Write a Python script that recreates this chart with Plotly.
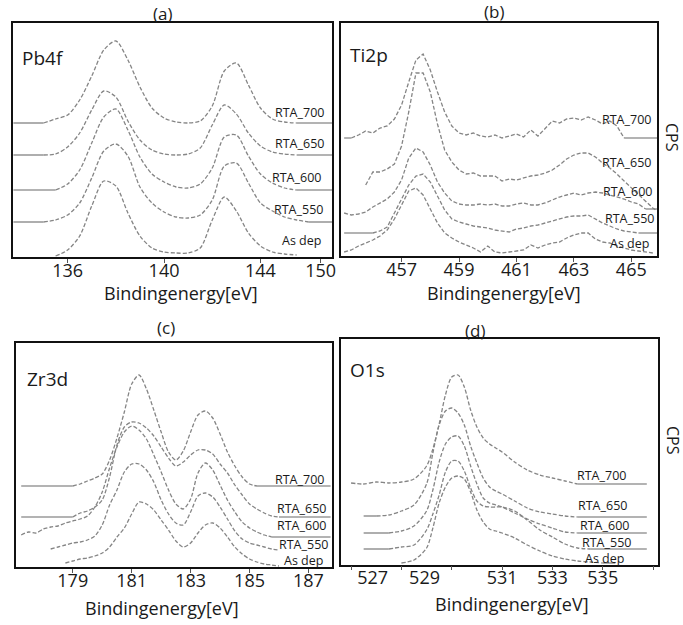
import plotly.graph_objects as go

W, H = 683, 625
SAMPLES = ["As dep", "RTA_550", "RTA_600", "RTA_650", "RTA_700"]
X_TITLE = "Bindingenergy[eV]"

# ---------------- Pb 4f ----------------
pb_energy = [133.75, 134.0, 134.5, 135.0, 135.5, 136.0, 136.5, 137.0, 137.5, 138.0,
             138.5, 139.0, 139.5, 140.0, 140.5, 141.0, 141.5, 142.0, 142.5, 143.0,
             143.5, 144.0, 144.5, 145.0, 145.5, 146.0, 146.5, 147.0]
pb_as_dep = [None, None, None, None, 1, 7, 21, 51, 76, 71, 44, 21, 9, 5, 4, 4, 9, 37, 60,
             46, 24, 11, 5, 3, 2, None, None, None]
pb_rta550 = [35, 35, 35, 35, 37, 42, 54, 79, 106, 113, 101, 70, 54, 45, 40, 39, 42, 57, 91,
             94, 74, 54, 46, 40, 37, 35, 35, 35]
pb_rta600 = [67, 67, 67, 67, 67, 73, 87, 114, 140, 148, 127, 100, 83, 75, 70, 69, 73, 89,
             120, 122, 101, 83, 74, 69, 67, 67, 67, 67]
pb_rta650 = [102, 102, 102, 102, 103, 110, 124, 147, 166, 160, 136, 117, 107, 103, 102, 103,
             109, 132, 152, 143, 124, 111, 105, 103, 102, 102, 102, 102]
pb_rta700 = [134, 134, 134, 134, 138, 142, 157, 181, 207, 216, 197, 170, 149, 139, 135, 134,
             136, 151, 186, 194, 172, 149, 138, 135, 134, 134, 134, 134]
pb_tick_pos = [136, 140, 144, 146.5]
pb_ticks = ["136", "140", "144", "150"]

# ---------------- Ti 2p ----------------
ti_energy = [455.0, 455.25, 455.5, 455.75, 456.0, 456.25, 456.5, 456.75, 457.0, 457.25,
             457.5, 457.75, 458.0, 458.25, 458.5, 458.75, 459.0, 459.25, 459.5, 459.75,
             460.0, 460.25, 460.5, 460.75, 461.0, 461.25, 461.5, 461.75, 462.0, 462.25,
             462.5, 462.75, 463.0, 463.25, 463.5, 463.75, 464.0, 464.25, 464.5, 464.75,
             465.0, 465.25, 465.5, 465.75, 465.9]
ti_as_dep = [4, 6, 10, 13, 16, 20, 26, 37, 51, 65, 68, 61, 47, 33, 23, 18, 14, 11, 8, 4,
             10, 4, 3, 4, 5, 6, 11, 8, 11, 13, 14, 18, 21, 23, 23, 17, 14, 13, 10, 8,
             6, 5, 4, 3, None]
ti_rta550 = [23, 23, 23, 23, 23, 25, 29, 43, 56, 71, 80, 82, 74, 60, 46, 37, 34, 32, 30, 29,
             28, 26, 25, 24, 27, 28, 30, 31, 33, 35, 37, 39, 40, 40, 41, 37, 33, 30, 27, 25,
             24, 23, 23, 23, 23]
ti_rta600 = [43, 41, 42, 44, 49, 53, 57, 64, 76, 98, 108, 104, 91, 74, 63, 55, 52, 51, 51, 52,
             51, 52, 50, 50, 52, 53, 51, 51, 53, 56, 59, 61, 63, 61, 63, 64, 63, 61, 59, 57,
             54, 52, 47, 47, 47]
ti_rta650 = [None, None, None, 71, 84, 84, 87, 92, 110, 144, 183, 183, 164, 132, 106, 94, 86,
             82, 83, 80, 80, 80, 75, 77, 76, 78, 80, 81, 83, 86, 91, 97, 101, 103, 103, 99,
             93, 88, 82, 75, 68, 62, 55, 48, 45]
ti_rta700 = [118, 118, 121, 125, 123, 128, 130, 137, 151, 174, 196, 202, 186, 164, 144, 130,
             123, 121, 123, 120, 119, 121, 118, 120, 122, 119, 126, 120, 128, 135, 133, 137,
             138, 136, 139, 136, 132, 135, 130, 118, 118, 118, 118, 118, 118]
ti_tick_pos = [457, 459, 461, 463, 465]
ti_ticks = ["457", "459", "461", "463", "465"]

# ---------------- Zr 3d ----------------
zr_energy = [177.25, 177.5, 177.75, 178.0, 178.25, 178.5, 178.75, 179.0, 179.25, 179.5,
             179.75, 180.0, 180.25, 180.5, 180.75, 181.0, 181.25, 181.5, 181.75, 182.0,
             182.25, 182.5, 182.75, 183.0, 183.25, 183.5, 183.75, 184.0, 184.25, 184.5,
             184.75, 185.0, 185.25, 185.5, 185.75, 186.0, 186.25, 186.5, 186.75, 187.0,
             187.25, 187.5, 187.75]
zr_as_dep = [None, None, None, None, None, None, 4, 6, 8, 9, 11, 14, 20, 30, 39, 53, 65, 63,
             57, 47, 37, 26, 20, 24, 34, 42, 44, 39, 30, 20, 13, 8, 5, 3, 2, 1,
             None, None, None, None, None, None, None]
zr_rta550 = [None, None, None, None, 18, 20, 22, 24, 25, 27, 31, 42, 62, 77, 95, 103, 103, 97,
             85, 67, 53, 44, 42, 55, 71, 74, 70, 60, 48, 36, 28, 24, 22, 20, 18, 17,
             None, None, None, None, None, None, None]
zr_rta600 = [32, 35, 34, 38, 40, 41, 44, 46, 48, 51, 60, 75, 99, 120, 135, 141, 137, 128, 112,
             95, 77, 63, 58, 68, 94, 104, 97, 82, 67, 55, 45, 39, 35, 32, 30, 30, 30, 30, 30,
             30, 30, 30, 30]
zr_rta650 = [50, 50, 50, 50, 50, 50, 50, 50, 54, 56, 60, 67, 90, 122, 140, 145, 144, 139, 131,
             120, 109, 101, 105, 112, 117, 117, 113, 103, 94, 82, 72, 63, 58, 54, 51, 50, 50,
             50, 50, 50, 50, 50, 50]
zr_rta700 = [81, 81, 81, 81, 81, 81, 81, 81, 83, 86, 89, 93, 107, 129, 155, 183, 192, 178, 157,
             135, 115, 107, 116, 135, 152, 156, 149, 133, 115, 101, 90, 83, 81, 81, 81, 81, 81,
             81, 81, 81, 81, 81, 81]
zr_tick_pos = [179, 181, 183, 185, 187]
zr_ticks = ["179", "181", "183", "185", "187"]

# ---------------- O 1s ----------------
o_energy = [525.0, 525.5, 526.0, 526.5, 527.0, 527.5, 528.0, 528.25, 528.5, 528.75, 529.0,
            529.25, 529.5, 529.75, 530.0, 530.25, 530.5, 530.75, 531.0, 531.5, 532.0, 532.5,
            533.0, 533.5, 534.0, 534.5, 535.0, 535.5, 536.0, 536.5, 536.75]
o_as_dep = [None, None, None, None, 2, 5, 17, 37, 62, 78, 87, 89, 86, 73, 55, 43, 36, 34, 32,
            27, 20, 14, 9, 6, 4, 3, 2, 2, None, None, None]
o_rta550 = [None, 16, 16, 16, 18, 20, 35, 51, 70, 93, 104, 104, 94, 77, 64, 59, 58, 58, 58,
            54, 45, 35, 28, 21, 17, 16, 16, 16, 16, 16, 16]
o_rta600 = [None, 32, 32, 32, 34, 39, 54, 75, 103, 121, 128, 129, 119, 99, 81, 67, 62, 60, 58,
            52, 46, 41, 37, 33, 32, 32, 32, 32, 32, 32, 32]
o_rta650 = [None, 49, 49, 50, 54, 60, 81, 112, 140, 154, 157, 152, 140, 119, 102, 87, 78, 74,
            71, 64, 57, 53, 51, 49, 48, 48, 48, 48, 48, 48, 48]
o_rta700 = [82, 81, 83, 82, 83, 86, 99, 116, 141, 170, 188, 190, 178, 155, 138, 127, 121, 117,
            113, 103, 95, 90, 87, 84, 81, 81, 81, 81, 81, 81, 81]
o_label_pos = [525.86, 527.92, 531, 533, 535]
o_ticks = ["527", "529", "531", "533", "535"]
o_tick_marks = [525, 527, 529, 531, 533, 535, 537]


def fx(px):
    return px / W


def fy(py):
    return 1 - py / H


# frame of each panel in pixels (left, top, right, bottom), axis range, label placement
PANELS = [
    dict(name="Pb4f", tag="(a)", energy=pb_energy,
         series=[pb_as_dep, pb_rta550, pb_rta600, pb_rta650, pb_rta700],
         box=(13, 23, 334, 257), xr=[133.73, 146.97], ymax=234, shape="spline",
         ticks=(pb_tick_pos, pb_ticks), tag_xy=(163, 13), name_xy=(20, 58),
         title_xy=(182, 293), label_right=[325, 327, 325, 328, 328],
         label_y=[241, 209, 178, 144, 113]),
    dict(name="Ti2p", tag="(b)", energy=ti_energy,
         series=[ti_as_dep, ti_rta550, ti_rta600, ti_rta650, ti_rta700],
         box=(343, 23, 661, 256), xr=[454.89, 465.9], ymax=233, shape="linear",
         ticks=(ti_tick_pos, ti_ticks), tag_xy=(497, 12), name_xy=(350, 55),
         title_xy=(507, 293), label_right=[655, 660, 658, 657, 657],
         label_y=[243, 218, 191, 163, 120]),
    dict(name="Zr3d", tag="(c)", energy=zr_energy,
         series=[zr_as_dep, zr_rta550, zr_rta600, zr_rta650, zr_rta700],
         box=(16, 343, 334, 567), xr=[177.07, 187.8], ymax=224, shape="spline",
         ticks=(zr_tick_pos, zr_ticks), tag_xy=(167, 327), name_xy=(25, 379),
         title_xy=(163, 608), label_right=[327, 332, 330, 330, 328],
         label_y=[560, 544, 525, 508, 479]),
    dict(name="O1s", tag="(d)", energy=o_energy,
         series=[o_as_dep, o_rta550, o_rta600, o_rta650, o_rta700],
         box=(343, 339, 662, 565), xr=[524.6, 537.2], ymax=226, shape="spline",
         ticks=(o_label_pos, o_ticks), tag_xy=(478, 330), name_xy=(350, 370),
         title_xy=(515, 604), label_right=[630, 637, 635, 633, 632],
         label_y=[558, 542, 525, 505, 475]),
]

DASH_COLOR = "#858585"
SOLID_COLOR = "#9a9a9a"
TEXT = "#1a1a1a"
FONT = "Open Sans"

fig = go.Figure()
annotations = []


def note(text, px, py, size, xanchor="center", **extra):
    annotations.append(dict(text=text, x=fx(px), y=fy(py), xref="paper", yref="paper",
                            xanchor=xanchor, yanchor="middle", showarrow=False,
                            font=dict(family=FONT, size=size, color=TEXT), **extra))


def flat_runs(ys):
    idx = [i for i, v in enumerate(ys) if v is not None]
    s, e = idx[0], idx[-1]
    a = s
    while a + 1 <= e and ys[a + 1] == ys[s]:
        a += 1
    b = e
    while b - 1 >= a and ys[b - 1] == ys[e]:
        b -= 1
    return s, a, b, e


for k, p in enumerate(PANELS, start=1):
    xa = "x" if k == 1 else f"x{k}"
    ya = "y" if k == 1 else f"y{k}"
    xs = p["energy"]
    for ys in p["series"]:
        s, a, b, e = flat_runs(ys)
        # flat ends of a spectrum are drawn as solid baseline pieces
        for lo, hi in ((s, a), (b, e)):
            if hi > lo:
                fig.add_trace(go.Scatter(
                    x=xs[lo:hi + 1], y=ys[lo:hi + 1], xaxis=xa, yaxis=ya,
                    mode="lines", line=dict(color=SOLID_COLOR, width=1.6),
                    showlegend=False, hoverinfo="skip"))
        line = dict(color=DASH_COLOR, width=1.3, dash="4px,2px", shape=p["shape"])
        if p["shape"] == "spline":
            line["smoothing"] = 0.8
        fig.add_trace(go.Scatter(
            x=xs[a:b + 1], y=ys[a:b + 1], xaxis=xa, yaxis=ya, mode="lines",
            line=line, showlegend=False, hoverinfo="skip"))

    l, t, r, bt = p["box"]
    tickvals, ticktext = p["ticks"]
    xkey = "xaxis" if k == 1 else f"xaxis{k}"
    ykey = "yaxis" if k == 1 else f"yaxis{k}"
    fig.layout[xkey] = dict(
        domain=[fx(l), fx(r)], range=p["xr"], anchor=ya,
        tickvals=tickvals, ticktext=ticktext,
        ticks="" if k == 4 else "outside", ticklen=4, tickcolor="#555",
        ticklabelstandoff=-4 if k == 4 else -7,
        tickfont=dict(family=FONT, size=18, color=TEXT),
        showline=True, mirror=True, linecolor="#111", linewidth=1.5,
        showgrid=False, zeroline=False, fixedrange=True)
    fig.layout[ykey] = dict(
        domain=[fy(bt), fy(t)], range=[0, p["ymax"]], anchor=xa,
        showticklabels=False, ticks="",
        showline=True, mirror=True, linecolor="#111", linewidth=1.5,
        showgrid=False, zeroline=False, fixedrange=True)

    note(p["tag"], *p["tag_xy"], 17)
    note(p["name"], *p["name_xy"], 19, xanchor="left")
    note(X_TITLE, *p["title_xy"], 18)
    for name, xr_, yl in zip(SAMPLES, p["label_right"], p["label_y"]):
        note(name, xr_, yl, 12.5, xanchor="right")

# tick marks of the O 1s axis sit apart from its labels
fig.add_trace(go.Scatter(x=[], y=[], xaxis="x5", yaxis="y4", showlegend=False,
                         hoverinfo="skip"))
fig.layout["xaxis5"] = dict(
    overlaying="x4", anchor="y4", domain=[fx(343), fx(662)], range=PANELS[3]["xr"],
    tickvals=o_tick_marks, ticks="outside", ticklen=4, tickcolor="#555",
    showticklabels=False, showline=False, showgrid=False, zeroline=False,
    fixedrange=True)

note("CPS", 676, 137, 16, textangle=90)
note("CPS", 677, 440, 16, textangle=90)

fig.update_layout(
    width=W, height=H, autosize=False,
    margin=dict(l=0, r=0, t=0, b=0),
    paper_bgcolor="white", plot_bgcolor="white",
    annotations=annotations, showlegend=False)

fig.write_html("out.html")
